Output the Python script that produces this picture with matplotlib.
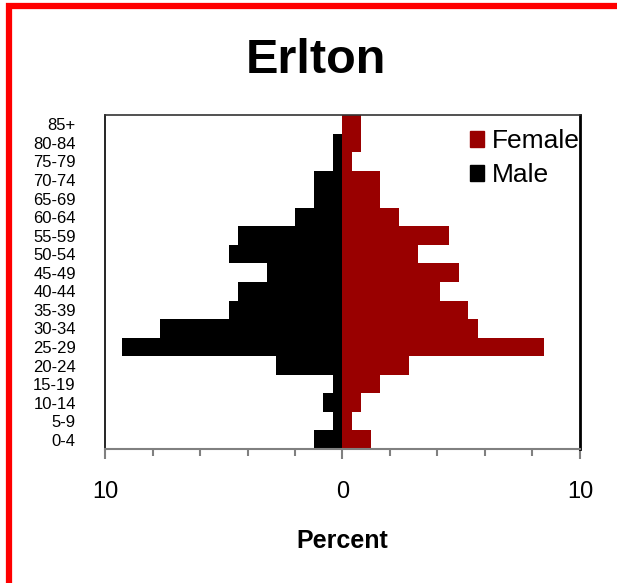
import matplotlib
matplotlib.use("Agg")
import matplotlib.pyplot as plt
from matplotlib.patches import Rectangle, Patch
from matplotlib.ticker import FixedLocator

plt.rcParams['font.family'] = ['Liberation Sans', 'DejaVu Sans']

age_groups = ["0-4", "5-9", "10-14", "15-19", "20-24", "25-29", "30-34", "35-39",
              "40-44", "45-49", "50-54", "55-59", "60-64", "65-69", "70-74",
              "75-79", "80-84", "85+"]
male = [1.2, 0.4, 0.8, 0.4, 2.8, 9.3, 7.7, 4.8, 4.4, 3.2, 4.8, 4.4, 2.0, 1.2, 1.2, 0.4, 0.4, 0.0]
female = [1.2, 0.4, 0.8, 1.6, 2.8, 8.5, 5.7, 5.3, 4.1, 4.9, 3.2, 4.5, 2.4, 1.6, 1.6, 0.4, 0.8, 0.8]
title = "Erlton"
xlabel = "Percent"

fig = plt.figure(figsize=(6.17, 5.83), dpi=100)
ax = fig.add_axes([0.1702, 0.2298, 0.7698, 0.5729])

y = list(range(len(age_groups)))
ax.barh(y, [-m for m in male], height=1.0, color="black", linewidth=0, label="Male")
ax.barh(y, female, height=1.0, color="#990000", linewidth=0, label="Female")

ax.set_xlim(-10, 10)
ax.set_ylim(-0.5, len(age_groups) - 0.5)
ax.set_yticks(y)
ax.set_yticklabels(age_groups, fontsize=12)
ax.tick_params(axis='y', length=0, pad=21)

ax.xaxis.set_major_locator(FixedLocator([-10, 0, 10]))
ax.xaxis.set_minor_locator(FixedLocator([-8, -6, -4, -2, 2, 4, 6, 8]))
ax.set_xticklabels(["10", "0", "10"], fontsize=17)
ax.tick_params(axis='x', which='major', direction='out', length=7, width=1.5,
               color="#808080", pad=16)
ax.tick_params(axis='x', which='minor', direction='out', length=5, width=1.5,
               color="#808080")

ax.spines['left'].set_color('black')
ax.spines['left'].set_linewidth(1.2)
ax.spines['top'].set_color('#333333')
ax.spines['top'].set_linewidth(1.2)
ax.spines['right'].set_color('black')
ax.spines['right'].set_linewidth(2)
ax.spines['bottom'].set_color('#808080')
ax.spines['bottom'].set_linewidth(1.5)

ax.set_xlabel(xlabel, fontsize=18, fontweight='bold', labelpad=19)

handles = [Patch(color="#990000", label="Female"), Patch(color="black", label="Male")]
ax.legend(handles=handles, loc='upper right', frameon=False, fontsize=19,
          handlelength=0.55, handleheight=0.55, handletextpad=0.3,
          labelspacing=0.4, borderaxespad=0.0, bbox_to_anchor=(1.022, 0.99))

fig.text(0.512, 1 - 73 / 583, title, fontsize=35, fontweight='bold', ha='center', va='baseline')

border = Rectangle((8.5 / 617, -0.05), 1.1, 1 - 6 / 583 + 0.05, transform=fig.transFigure,
                   fill=False, edgecolor='red', linewidth=4.5, clip_on=False)
fig.patches.append(border)

fig.savefig("out.png", dpi=100)
